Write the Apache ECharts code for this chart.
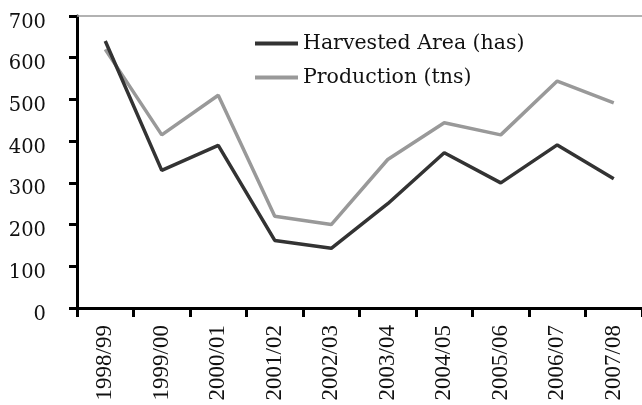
<!DOCTYPE html>
<html>
<head>
<meta charset="utf-8">
<script src="https://cdn.jsdelivr.net/npm/echarts@6/dist/echarts.min.js"></script>
<style>
  html, body { margin: 0; padding: 0; background: #fff; }
  #chart { width: 642px; height: 405px; }
</style>
</head>
<body>
<div id="chart"></div>
<script>
const seasons = ['1998/99', '1999/00', '2000/01', '2001/02', '2002/03',
  '2003/04', '2004/05', '2005/06', '2006/07', '2007/08'];
const harvestedArea = [640, 330, 390, 162, 143, 250, 372, 300, 391, 310];
const production = [620, 415, 510, 220, 200, 356, 444, 415, 544, 492];

const serif = 'DejaVu Serif';

const myChart = echarts.init(document.getElementById('chart'));
myChart.setOption({
  animation: false,
  grid: { left: 77, right: 0, top: 16, bottom: 97 },
  legend: {
    orient: 'vertical',
    left: 250,
    top: 28,
    itemWidth: 43,
    itemHeight: 4,
    itemGap: 13,
    icon: 'rect',
    textStyle: { fontFamily: serif, fontSize: 20.5, color: '#111' },
    data: ['Harvested Area (has)', 'Production (tns)']
  },
  xAxis: [{
    type: 'category',
    data: seasons,
    boundaryGap: true,
    axisLine: { lineStyle: { color: '#000', width: 3 } },
    axisTick: { show: true, length: 9, lineStyle: { color: '#000', width: 3 } },
    axisLabel: {
      rotate: 90, margin: 17, color: '#111',
      fontFamily: 'Liberation Serif', fontSize: 23
    }
  }, {
    type: 'category',
    data: seasons,
    position: 'top',
    axisLine: { lineStyle: { color: '#999', width: 1.5 } },
    axisTick: { show: false },
    axisLabel: { show: false }
  }],
  yAxis: {
    type: 'value',
    min: 0, max: 700, interval: 100,
    axisLine: { show: true, lineStyle: { color: '#000', width: 3 } },
    axisTick: { show: true, length: 8, lineStyle: { color: '#000', width: 3 } },
    splitLine: { show: false },
    axisLabel: {
      margin: 31, color: '#111',
      formatter: '{a|{value}}',
      rich: {
        a: { fontFamily: serif, fontSize: 19.5, color: '#111', padding: [13, 0, 0, 0] }
      }
    }
  },
  series: [
    {
      name: 'Harvested Area (has)',
      type: 'line',
      data: harvestedArea,
      symbol: 'none',
      color: '#333',
      lineStyle: { width: 3.5, color: '#333' },
      z: 3
    },
    {
      name: 'Production (tns)',
      type: 'line',
      data: production,
      symbol: 'none',
      color: '#999',
      lineStyle: { width: 3.5, color: '#999' },
      z: 2
    }
  ]
});
</script>
</body>
</html>
